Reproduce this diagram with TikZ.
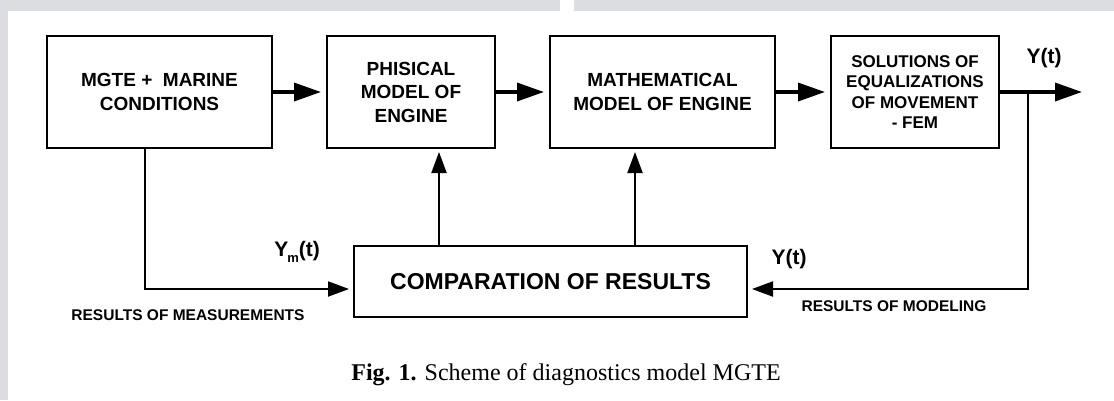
\documentclass[tikz,border=0pt]{standalone}
\usepackage{fontspec}
\setmainfont{Liberation Serif}
\setsansfont{Liberation Sans}
\usetikzlibrary{arrows.meta}
\definecolor{framegray}{RGB}{220,221,224}

\begin{document}
\begin{tikzpicture}[x=1pt,y=-1pt,
  block/.style={draw, line width=2pt, inner sep=0pt, outer sep=0pt, align=center,
    font={\sffamily\bfseries\fontsize{19}{23.5}\selectfont}},
  smallblock/.style={block, font={\sffamily\bfseries\fontsize{17}{20.5}\selectfont}},
  flow/.style={line width=3.5pt, -{Triangle[length=27pt,width=18pt]}, shorten >=6pt},
  fb/.style={line width=2pt, -{Triangle[length=21pt,width=15pt]}, shorten >=5pt},
  sig/.style={font={\sffamily\bfseries\fontsize{21}{21}\selectfont}, inner sep=0pt},
  note/.style={font={\sffamily\bfseries\fontsize{15.5}{15.5}\selectfont}, inner sep=0pt}]

% page frame
\fill[framegray] (0,0) rectangle (560,10.5);
\fill[framegray] (574,0) rectangle (1114,10.5);
\fill[framegray] (0,0) rectangle (7.5,400);
\useasboundingbox (0,0) rectangle (1114,400);

% blocks
\node[block, minimum width=225pt, minimum height=112pt] (b1) at (159.5,92)
  {MGTE +\ \ MARINE\\CONDITIONS};
\node[block, minimum width=168pt, minimum height=112pt] (b2) at (411,92)
  {PHISICAL\\MODEL OF\\ENGINE};
\node[block, minimum width=225pt, minimum height=112pt] (b3) at (662.5,92)
  {MATHEMATICAL\\MODEL OF ENGINE};
\node[smallblock, minimum width=168pt, minimum height=112pt] (b4) at (915,92)
  {SOLUTIONS OF\\EQUALIZATIONS\\OF MOVEMENT\\- FEM};
\node[block, minimum width=393pt, minimum height=71pt,
  font={\sffamily\bfseries\fontsize{23}{23}\selectfont}] (cmp) at (550.5,281.5)
  {COMPARATION OF RESULTS};

% helper points
\coordinate (out) at (1082,92);
\coordinate (tap) at (1028,92);
\coordinate (mL) at (145,289);
\coordinate (mR) at (1028,289);
\coordinate (u1) at (439,0);
\coordinate (u2) at (635,0);

% forward chain
\draw[flow] (b1) -- (b2);
\draw[flow] (b2) -- (b3);
\draw[flow] (b3) -- (b4);
\draw[flow, shorten >=0pt] (b4.east) -- (out);

% feedback paths
\draw[fb] (b1.south -| mL) |- (cmp.west |- mL);
\draw[fb] (tap) -- (mR) -- (cmp.east |- mR);
\draw[fb, shorten >=4pt] (cmp.north -| u1) -- (b2.south -| u1);
\draw[fb, shorten >=4pt] (cmp.north -| u2) -- (b3.south -| u2);

% signal labels
\node[sig] (yout) at (1044,58) {Y(t)};
\node[sig] (ymod) at (789,259) {Y(t)};
\node[sig, anchor=base east] (ymeas) at (320,256)
  {Y\kern-1pt\raisebox{-6pt}{\fontsize{13}{13}\selectfont m}(t)};
\node[note] (lmeas) at (188,315) {RESULTS OF MEASUREMENTS};
\node[note] (lmod) at (894,306) {RESULTS OF MODELING};

% caption
\node[font={\fontsize{24}{24}\selectfont}, inner sep=0pt] (cap) at (566,375)
  {\textbf{Fig. 1.} Scheme of diagnostics model MGTE};
\end{tikzpicture}
\end{document}
